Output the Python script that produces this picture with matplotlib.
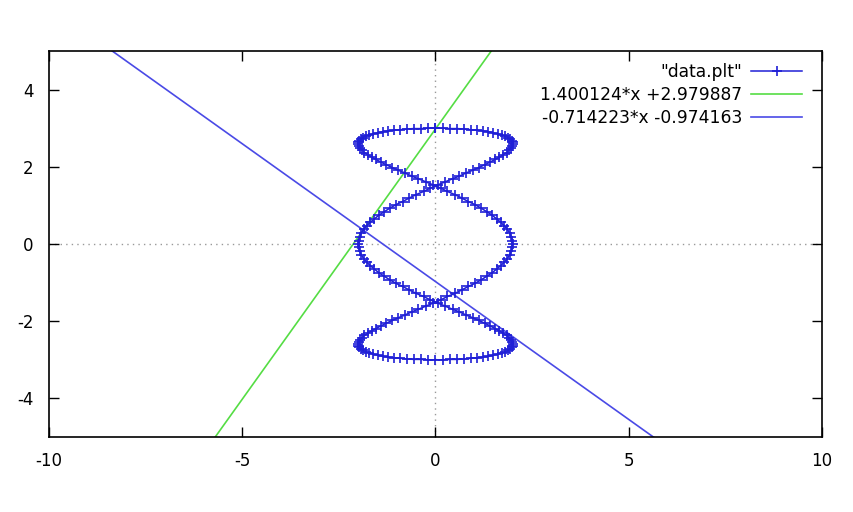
import numpy as np
import matplotlib
matplotlib.use('Agg')
import matplotlib.pyplot as plt

plt.rcParams['axes.unicode_minus'] = False

# points of "data.plt"
curve_x = [0.00, 0.19, 0.37, 0.56, 0.74, 0.91, 1.07, 1.23, 1.37, 1.50, 1.62, 1.72, 1.81, 1.88, 1.94, 1.98, 2.00,
           2.00, 1.98, 1.95, 1.90, 1.84, 1.75, 1.65, 1.54, 1.41, 1.27, 1.12, 0.96, 0.79, 0.62, 0.44, 0.25, 0.06,
           -0.13, -0.31, -0.50, -0.68, -0.85, -1.02, -1.18, -1.32, -1.46, -1.58, -1.69, -1.78, -1.86, -1.92, -1.96,
           -1.99, -2.00,
           -1.99, -1.96, -1.92, -1.86, -1.78, -1.69, -1.58, -1.46, -1.32, -1.18, -1.02, -0.85, -0.68, -0.50, -0.31,
           -0.13, 0.06, 0.25, 0.44, 0.62, 0.79, 0.96, 1.12, 1.27, 1.41, 1.54, 1.65, 1.75, 1.84, 1.90, 1.95, 1.98,
           2.00, 2.00, 1.98, 1.94, 1.88, 1.81, 1.72, 1.62, 1.50, 1.37, 1.23, 1.07, 0.91, 0.74, 0.56, 0.37, 0.19,
           0.00, -0.19, -0.37, -0.56, -0.74, -0.91, -1.07, -1.23, -1.37, -1.50, -1.62, -1.72, -1.81, -1.88, -1.94,
           -1.98, -2.00, -2.00, -1.98, -1.95, -1.90, -1.84, -1.75, -1.65, -1.54, -1.41, -1.27, -1.12, -0.96, -0.79,
           -0.62, -0.44, -0.25, -0.06, 0.13, 0.31, 0.50, 0.68, 0.85, 1.02, 1.18, 1.32, 1.46, 1.58, 1.69, 1.78,
           1.86, 1.92, 1.96, 1.99, 2.00,
           1.99, 1.96, 1.92, 1.86, 1.78, 1.69, 1.58, 1.46, 1.32, 1.18, 1.02, 0.85, 0.68, 0.50, 0.31, 0.13, -0.06,
           -0.25, -0.44, -0.62, -0.79, -0.96, -1.12, -1.27, -1.41, -1.54, -1.65, -1.75, -1.84, -1.90, -1.95, -1.98,
           -2.00, -2.00, -1.98, -1.94, -1.88, -1.81, -1.72, -1.62, -1.50, -1.37, -1.23, -1.07, -0.91, -0.74, -0.56,
           -0.37, -0.19, 0.00]
curve_y = [3.00, 3.00, 2.99, 2.99, 2.98, 2.96, 2.95, 2.93, 2.91, 2.88, 2.85, 2.82, 2.79, 2.75, 2.71, 2.67, 2.63,
           2.58, 2.53, 2.48, 2.43, 2.37, 2.31, 2.25, 2.19, 2.12, 2.05, 1.98, 1.91, 1.84, 1.76, 1.69, 1.61, 1.53,
           1.45, 1.36, 1.28, 1.19, 1.10, 1.02, 0.93, 0.84, 0.75, 0.65, 0.56, 0.47, 0.38, 0.28, 0.19, 0.09, 0.00,
           -0.09, -0.19, -0.28, -0.38, -0.47, -0.56, -0.65, -0.75, -0.84, -0.93, -1.02, -1.10, -1.19, -1.28, -1.36,
           -1.45, -1.53, -1.61, -1.69, -1.76, -1.84, -1.91, -1.98, -2.05, -2.12, -2.19, -2.25, -2.31, -2.37, -2.43,
           -2.48, -2.53, -2.58, -2.63, -2.67, -2.71, -2.75, -2.79, -2.82, -2.85, -2.88, -2.91, -2.93, -2.95, -2.96,
           -2.98, -2.99, -2.99, -3.00,
           -3.00, -3.00, -2.99, -2.99, -2.98, -2.96, -2.95, -2.93, -2.91, -2.88, -2.85, -2.82, -2.79, -2.75, -2.71,
           -2.67, -2.63, -2.58, -2.53, -2.48, -2.43, -2.37, -2.31, -2.25, -2.19, -2.12, -2.05, -1.98, -1.91, -1.84,
           -1.76, -1.69, -1.61, -1.53, -1.45, -1.36, -1.28, -1.19, -1.10, -1.02, -0.93, -0.84, -0.75, -0.65, -0.56,
           -0.47, -0.38, -0.28, -0.19, -0.09, 0.00,
           0.09, 0.19, 0.28, 0.38, 0.47, 0.56, 0.65, 0.75, 0.84, 0.93, 1.02, 1.10, 1.19, 1.28, 1.36, 1.45, 1.53,
           1.61, 1.69, 1.76, 1.84, 1.91, 1.98, 2.05, 2.12, 2.19, 2.25, 2.31, 2.37, 2.43, 2.48, 2.53, 2.58, 2.63,
           2.67, 2.71, 2.75, 2.79, 2.82, 2.85, 2.88, 2.91, 2.93, 2.95, 2.96, 2.98, 2.99, 2.99, 3.00, 3.00]

# fitted lines y = a*x + b
fit_a = [1.400124, -0.714223]
fit_b = [2.979887, -0.974163]
fit_labels = ['1.400124*x +2.979887', '-0.714223*x -0.974163']
fit_colors = ['#55dd44', '#4a4ae6']

x_range = [-10, 10]
y_range = [-5, 5]

fig = plt.figure(figsize=(8.54, 5.12), dpi=100)
ax = fig.add_axes([0.0574, 0.1465, 0.9051, 0.7539])

# zero axes, dotted grey
ax.axhline(0, color='#999999', lw=1, ls=(0, (1, 3)), zorder=1)
ax.axvline(0, color='#999999', lw=1, ls=(0, (1, 3)), zorder=1)

ax.plot(curve_x, curve_y, color='#1f1fd6', lw=1.1, marker='+', ms=6.5, mew=1.2, label='"data.plt"', zorder=3)

xs = np.array(x_range, dtype=float)
for a, b, lab, c in zip(fit_a, fit_b, fit_labels, fit_colors):
    ax.plot(xs, a * xs + b, color=c, lw=1.2, label=lab, zorder=2)

ax.set_xlim(x_range)
ax.set_ylim(y_range)
ax.set_xticks(np.arange(-10, 11, 5))
ax.set_yticks(np.arange(-4, 5, 2))
ax.tick_params(direction='in', length=7, width=1, top=True, right=True, labelsize=12, pad=11, colors='black')
for sp in ax.spines.values():
    sp.set_linewidth(1.2)

leg = ax.legend(loc='upper right', bbox_to_anchor=(0.99, 1.0), frameon=False, markerfirst=False, numpoints=1,
                handlelength=3.0, handletextpad=0.5, labelspacing=0.28, fontsize=12.3, borderaxespad=0.3)

fig.savefig('out.png', dpi=100)
